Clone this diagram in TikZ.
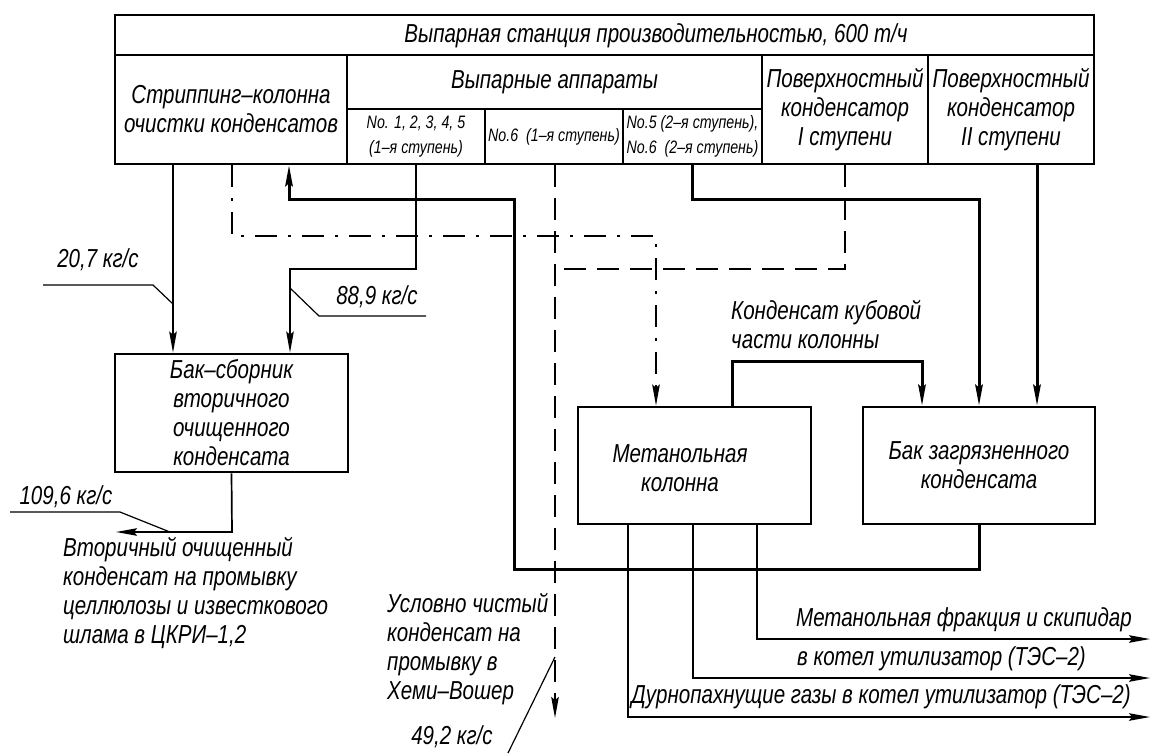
\documentclass[tikz,border=0pt]{standalone}
\usepackage{fontspec}
\newfontfamily\gostfont{Liberation Sans}[FakeStretch=0.79]
\usetikzlibrary{arrows.meta}
\begin{document}
\begin{tikzpicture}[x=1pt,y=-1pt,
  txt/.style={font=\gostfont\itshape\fontsize{26}{29}\selectfont, inner sep=0pt, align=center, text=black},
  small/.style={font=\gostfont\itshape\fontsize{18}{25}\selectfont, inner sep=0pt, align=center, text=black},
  cell/.style={draw, line width=2.6pt, inner sep=0pt, rectangle},
  box/.style={draw, line width=2.8pt, inner sep=0pt, rectangle},
  flow/.style={line width=3pt},
  thinl/.style={line width=1.7pt},
  lead/.style={line width=1.2pt},
  dashedl/.style={line width=1.8pt, dash pattern=on 22pt off 11pt},
  dashdotl/.style={line width=1.8pt, dash pattern=on 22pt off 11pt on 3pt off 11pt},
  arr/.style={-{Stealth[length=21pt,width=7.5pt,inset=3pt]}}
]
\useasboundingbox (0,0) rectangle (1150,753);

% ---- table ----
\node[cell, minimum width=979pt, minimum height=40pt] (title) at (604.5,35) {};
\node[txt] (titletxt) at (656,36) {Выпарная станция производительностью, 600 т/ч};
\node[cell, txt, minimum width=232pt, minimum height=109pt] (strip) at (231,109.5) {Стриппинг–колонна\\очистки конденсатов};
\node[cell, txt, minimum width=415pt, minimum height=54pt] (vyp) at (554.5,82) {Выпарные аппараты};
\node[cell, small, minimum width=138pt, minimum height=55pt] (v15) at (416,136.5) {No. 1, 2, 3, 4, 5\\(1–я ступень)};
\node[cell, small, minimum width=138pt, minimum height=55pt] (v6) at (554,136.5) {No.6~~(1–я ступень)};
\node[cell, small, minimum width=139pt, minimum height=55pt] (v56) at (692.5,136.5) {No.5 (2–я ступень),\\No.6~~(2–я ступень)};
\node[cell, txt, minimum width=166pt, minimum height=109pt] (c1) at (845,109.5) {Поверхностный\\конденсатор\\I ступени};
\node[cell, txt, minimum width=166pt, minimum height=109pt] (c2) at (1011,109.5) {Поверхностный\\конденсатор\\II ступени};

% ---- boxes ----
\node[box, txt, minimum width=233pt, minimum height=118pt] (tank) at (231.5,413) {Бак–сборник\\вторичного\\очищенного\\конденсата};
\node[box, minimum width=233pt, minimum height=117pt] (meth) at (694.5,465.5) {};
\node[txt] (methtxt) at (680,468) {Метанольная\\колонна};
\node[box, txt, minimum width=232pt, minimum height=117pt] (bak) at (979,465.5) {Бак загрязненного\\конденсата};

% ---- free texts ----
\node[txt] (l207) at (98,260) {20,7 кг/с};
\node[txt] (l889) at (377,297) {88,9 кг/с};
\node[txt] (l1096) at (66,497) {109,6 кг/с};
\node[txt, align=left, anchor=west] (out1) at (63,593) {Вторичный очищенный\\конденсат на промывку\\целлюлозы и известкового\\шлама в ЦКРИ–1,2};
\node[txt, align=left, anchor=west] (kub) at (731,325) {Конденсат кубовой\\части колонны};
\node[txt, align=left, anchor=west] (usl) at (387,649) {Условно чистый\\конденсат на\\промывку в\\Хеми–Вошер};
\node[txt] (l492) at (452,737) {49,2 кг/с};
\node[txt, anchor=east] (r1) at (1132,620) {Метанольная фракция и скипидар};
\node[txt, anchor=west] (r2) at (797,659) {в котел утилизатор (ТЭС–2)};
\node[txt, anchor=east] (r3) at (1131,697) {Дурнопахнущие газы в котел утилизатор (ТЭС–2)};

% ---- free ends ----
\coordinate (tankout) at (116,532);
\coordinate (o1) at (1150,639);
\coordinate (o2) at (1150,678);
\coordinate (o3) at (1150,717);
\coordinate (cleanout) at (555,718);

% ---- connectors ----
\draw[thinl,arr] (strip.south -| 173,0) -- (tank.north -| 173,0);
\draw[thinl,arr] (v15.south) -- (416,269) -- (290,269) -- (tank.north -| 290,0);
\draw[dashdotl,arr] (strip.south -| 232,0) -- (232,236) -- (656,236) -- (meth.north -| 656,0);
\draw[dashedl,arr] (v6.south -| 555,0) -- (cleanout);
\draw[dashedl] (c1.south) -- (845,269) -- (555,269);
\draw[flow,arr] (v56.south) -- (692.5,199) -- (979,199) -- (bak.north -| 979,0);
\draw[flow,arr] (c2.south -| 1037,0) -- (bak.north -| 1037,0);
\draw[flow,arr] (meth.north -| 732,0) -- (732,361) -- (922,361) -- (bak.north -| 922,0);
\draw[flow,arr] (bak.south -| 979,0) -- (979,569) -- (514,569) -- (514,199) -- (289,199) -- (strip.south -| 289,0);
\draw[thinl,arr] (tank.south) -- (232,532) -- (tankout);
\draw[thinl,arr] (meth.south -| 757,0) -- (757,639) -- (o1);
\draw[thinl,arr] (meth.south -| 693,0) -- (693,678) -- (o2);
\draw[thinl,arr] (meth.south -| 628,0) -- (628,717) -- (o3);

% ---- leaders ----
\draw[lead] (43,285) -- (153,285) -- (173,304);
\draw[lead] (290,288) -- (319,316) -- (426,316);
\draw[lead] (10,512) -- (120,512) -- (170,532);
\draw[lead] (555,657) -- (508,753);
\end{tikzpicture}
\end{document}
